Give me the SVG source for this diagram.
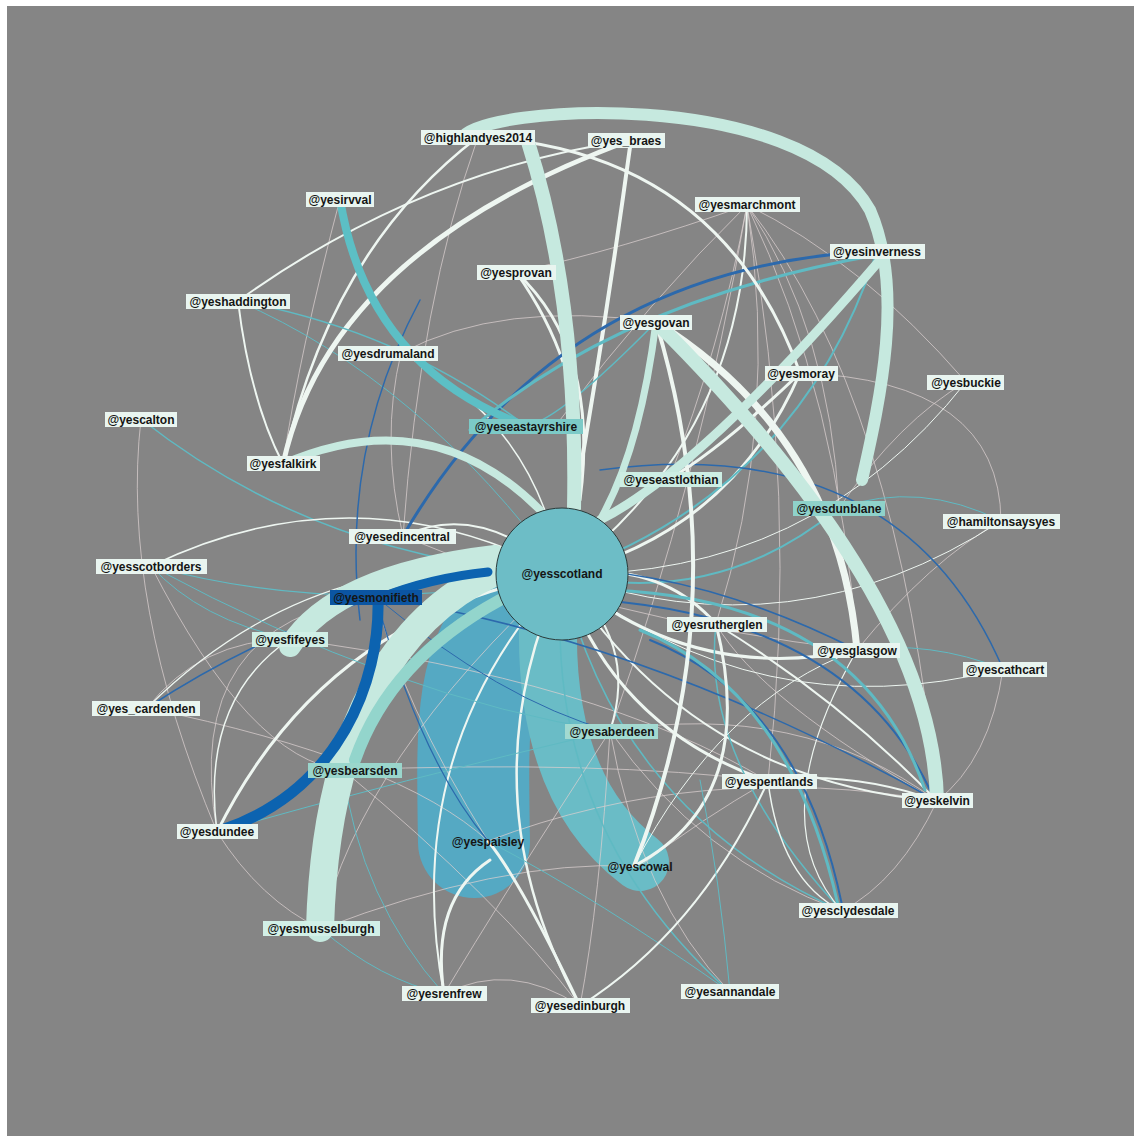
<svg xmlns="http://www.w3.org/2000/svg" width="1134" height="1136" viewBox="0 0 1134 1136">
<style>
.e{fill:none;stroke-linecap:round}
.w{stroke:#eef6f1}
.m{stroke:#c6e9df}
.t{stroke:#5fbac3}
.b{stroke:#2c69ac}
.g{stroke:#d9cfcf;opacity:.75}
.lb{fill:#e9f5f0}
.lt{font-family:"Liberation Sans",Arial,sans-serif;font-weight:bold;font-size:12px;fill:#151515;text-anchor:middle}
</style>
<rect x="0" y="0" width="1134" height="1136" fill="#ffffff"/>
<rect x="7" y="6" width="1127" height="1130" fill="#858585"/>
<g id="edges">
<path class="e" d="M520 612 C470 660 472 720 474 842" stroke="#55a9c3" stroke-width="112"/>
<path class="e" d="M548 625 Q545 790 640 862" stroke="#6abcc6" stroke-width="58"/>
<g stroke-width="1">
<path class="e g" d="M747 205 Q780 420 716 624"/>
<path class="e g" d="M747 205 Q840 400 857 650"/>
<path class="e g" d="M747 205 Q800 500 768 781"/>
<path class="e g" d="M747 205 Q700 480 610 731"/>
<path class="e g" d="M747 205 Q720 350 669 479"/>
<path class="e g" d="M747 205 Q830 330 839 508"/>
<path class="e g" d="M747 205 Q900 400 937 801"/>
<path class="e g" d="M747 205 Q650 300 560 420"/>
<path class="e g" d="M747 205 Q620 250 516 272"/>
<path class="e g" d="M747 205 Q860 260 966 382"/>
<path class="e g" d="M800 373 Q1000 380 1001 521"/>
<path class="e g" d="M966 382 Q900 420 839 508"/>
<path class="e g" d="M1001 521 Q930 560 857 650"/>
<path class="e g" d="M1003 669 Q990 760 937 801"/>
<path class="e g" d="M937 801 Q900 880 842 911"/>
<path class="e g" d="M444 994 Q510 960 580 1006"/>
<path class="e g" d="M217 832 Q260 900 321 929"/>
<path class="e g" d="M147 708 Q200 640 290 639"/>
<path class="e g" d="M401 353 Q380 440 403 536"/>
<path class="e g" d="M340 199 Q300 350 283 464"/>
<path class="e g" d="M768 781 Q700 820 640 866"/>
<path class="e g" d="M562 574 Q360 760 321 929"/>
<path class="e g" d="M488 841 Q700 760 937 801"/>
<path class="e g" d="M488 841 Q400 700 376 597"/>
<path class="e g" d="M610 731 Q800 700 937 801"/>
<path class="e g" d="M610 731 Q500 900 444 994"/>
<path class="e g" d="M610 731 Q700 860 842 911"/>
<path class="e g" d="M343 770 Q600 760 768 781"/>
<path class="e g" d="M343 770 Q500 900 580 1006"/>
<path class="e g" d="M403 536 Q600 620 857 650"/>
<path class="e g" d="M290 639 Q600 680 768 781"/>
<path class="e g" d="M147 708 Q400 760 488 841"/>
<path class="e g" d="M321 929 Q500 860 634 866"/>
<path class="e g" d="M580 1006 Q600 900 610 731"/>
<path class="e g" d="M730 992 Q640 900 610 731"/>
<path class="e g" d="M937 801 Q760 700 716 624"/>
<path class="e g" d="M478 137 Q420 300 403 536"/>
<path class="e g" d="M401 353 Q500 300 656 322"/>
<path class="e g" d="M217 832 Q180 620 376 597"/>
<path class="e g" d="M151 566 Q250 760 343 770"/>
<path class="e g" d="M141 419 Q120 600 217 832"/>
</g>
<path class="e t" stroke-width="1.5" d="M562 574 Q320 560 141 419"/>
<path class="e w" stroke-width="1.5" d="M562 574 Q358 466 151 566"/>
<path class="e t" stroke-width="1.2" d="M151 566 Q350 620 562 574"/>
<path class="e w" stroke-width="1.2" d="M562 574 Q320 536 147 708"/>
<path class="e w" stroke-width="3" d="M562 574 Q324 616 217 832"/>
<path class="e t" stroke-width="1.5" d="M562 574 Q402 616 343 770"/>
<path class="e w" stroke-width="2" d="M562 574 Q398 753 444 994"/>
<path class="e w" stroke-width="2.5" d="M562 574 Q463 793 580 1006"/>
<path class="e t" stroke-width="1.5" d="M562 574 Q541 824 730 992"/>
<path class="e t" stroke-width="1.5" d="M562 574 Q617 811 842 911"/>
<path class="e w" stroke-width="2" d="M562 574 Q692 780 937 801"/>
<path class="e w" stroke-width="3" d="M562 574 Q613 728 768 781"/>
<path class="e w" stroke-width="1" d="M562 574 Q758 731 1003 669"/>
<path class="e w" stroke-width="3" d="M562 574 Q690 685 857 650"/>
<path class="e w" stroke-width="1" d="M562 574 Q794 656 1001 521"/>
<path class="e t" stroke-width="2" d="M562 574 Q716 609 839 508"/>
<path class="e w" stroke-width="1" d="M562 574 Q811 578 966 382"/>
<path class="e w" stroke-width="3" d="M562 574 Q731 532 800 373"/>
<path class="e t" stroke-width="2" d="M562 574 Q800 490 877 251"/>
<path class="e w" stroke-width="2" d="M562 574 Q746 435 747 205"/>
<path class="e w" stroke-width="4" d="M575 500 Q605 330 631 140"/>
<path class="e w" stroke-width="3" d="M562 574 Q614 410 516 272"/>
<path class="e w" stroke-width="1.5" d="M562 574 Q536 422 401 353"/>
<path class="e w" stroke-width="2" d="M562 574 Q480 500 403 536"/>
<path class="e w" stroke-width="3" d="M562 574 Q660 560 716 624"/>
<path class="e w" stroke-width="2" d="M562 574 Q640 640 610 731"/>
<path class="e t" stroke-width="1" d="M562 574 Q420 380 238 301"/>
<path class="e t" stroke-width="1" d="M488 841 Q600 900 730 992"/>
<path class="e t" stroke-width="1" d="M151 566 Q400 700 610 731"/>
<path class="e t" stroke-width="1" d="M217 832 Q400 780 610 731"/>
<path class="e t" stroke-width="1" d="M444 994 Q360 900 343 770"/>
<path class="e t" stroke-width="1.5" d="M842 911 Q700 760 716 624"/>
<path class="e t" stroke-width="1.5" d="M656 322 Q560 420 526 426"/>
<path class="e w" stroke-width="1" d="M634 866 Q720 700 857 650"/>
<path class="e w" stroke-width="1.2" d="M857 650 Q760 820 842 911"/>
<path class="e w" stroke-width="2" d="M716 624 Q840 700 937 801"/>
<path class="e b" stroke-width="3" d="M403 536 Q560 266 877 251"/>
<path class="e t" stroke-width="3" d="M470 430 Q620 300 877 255"/>
<path class="e b" stroke-width="1.5" d="M376 597 Q600 520 857 650"/>
<path class="e b" stroke-width="1.5" d="M376 597 Q650 640 937 801"/>
<path class="e b" stroke-width="1" d="M376 597 Q500 700 610 731"/>
<path class="e b" stroke-width="1.5" d="M376 597 Q250 640 147 708"/>
<path class="e b" stroke-width="1.5" d="M600 470 Q900 430 1003 669"/>
<path class="e b" stroke-width="2" d="M650 640 Q800 700 842 905"/>
<path class="e t" stroke-width="3" d="M640 630 Q790 690 838 905"/>
<path class="e b" stroke-width="2" d="M600 600 Q850 620 930 790"/>
<path class="e t" stroke-width="3" d="M610 590 Q860 600 925 790"/>
<path class="e b" stroke-width="1.5" d="M420 300 Q340 450 360 620"/>
<path class="e b" stroke-width="1.2" d="M376 597 Q420 760 488 841"/>
<path class="e w" stroke-width="5" d="M283 464 Q330 250 631 140"/>
<path class="e w" stroke-width="2.5" d="M283 464 Q330 250 478 137"/>
<path class="e w" stroke-width="2" d="M631 140 Q420 170 238 301"/>
<path class="e w" stroke-width="3" d="M478 137 Q720 150 800 373"/>
<path class="e w" stroke-width="3" d="M516 272 Q600 350 580 500"/>
<path class="e w" stroke-width="3" d="M800 373 Q720 450 669 479"/>
<path class="e w" stroke-width="7" d="M656 322 Q838 436 857 650"/>
<path class="e w" stroke-width="4" d="M656 322 Q740 600 634 866"/>
<path class="e m" stroke-width="7" d="M656 322 Q640 450 600 520"/>
<path class="e w" stroke-width="3" d="M716 624 Q760 800 634 866"/>
<path class="e w" stroke-width="2" d="M768 781 Q700 930 580 1006"/>
<path class="e w" stroke-width="2" d="M768 781 Q850 770 937 801"/>
<path class="e w" stroke-width="1.5" d="M768 781 Q780 880 842 911"/>
<path class="e w" stroke-width="3" d="M580 1006 Q520 880 488 841"/>
<path class="e w" stroke-width="3" d="M444 994 Q430 900 490 860"/>
<path class="e w" stroke-width="1.5" d="M217 832 Q200 700 290 639"/>
<path class="e w" stroke-width="2" d="M238 301 Q250 400 283 464"/>
<path class="e t" stroke-width="1.5" d="M238 301 Q400 330 526 426"/>
<path class="e t" stroke-width="1" d="M151 566 Q200 620 290 639"/>
<path class="e t" stroke-width="1" d="M1001 521 Q920 480 839 508"/>
<path class="e t" stroke-width="1" d="M1003 669 Q930 640 857 650"/>
<path class="e t" stroke-width="1" d="M730 992 Q720 880 700 780"/>
<path class="e t" stroke-width="1" d="M321 929 Q380 980 444 994"/>
<path class="e" stroke="#5cbfc5" stroke-width="8" d="M340 199 Q367 367 526 426"/>
<path class="e m" stroke-width="8" d="M283 464 Q430 400 540 510"/>
<path class="e m" stroke-width="9" d="M600 520 Q700 470 880 260"/>
<path class="e m" stroke-width="14" d="M656 322 Q933 598 937 801"/>
<path class="e m" stroke-width="12" d="M462 138 C480 105 800 85 870 210 C905 290 880 400 862 480"/>
<path class="e m" stroke-width="14" d="M528 142 Q578 300 574 508"/>
<path class="e m" stroke-width="28" d="M495 572 C400 615 326 720 320 928"/>
<path class="e" stroke="#93d5cc" stroke-width="12" d="M355 760 Q390 660 500 600"/>
<path class="e m" stroke-width="22" d="M290 646 Q335 575 495 556"/>
<path class="e" stroke="#0c63b0" stroke-width="11" d="M378 600 C380 680 340 790 222 830"/>
<path class="e" stroke="#0c63b0" stroke-width="9" d="M380 598 Q430 578 488 572"/>
</g>
<g id="n-yesscotland"><circle cx="562" cy="574" r="66" fill="#6dbdc6" stroke="#2a3a3a" stroke-width="1"/><text class="lt" x="562" y="578" font-size="11" fill="#0d2a30">@yesscotland</text></g>
<g id="n-highlandyes2014"><rect class="lb" x="421" y="130" width="114" height="15"/><text class="lt" x="478" y="142">@highlandyes2014</text></g>
<g id="n-yes_braes"><rect class="lb" x="588" y="133" width="77" height="15"/><text class="lt" x="626" y="145">@yes_braes</text></g>
<g id="n-yesirvval"><rect class="lb" x="306" y="192" width="68" height="15"/><text class="lt" x="340" y="204">@yesirvval</text></g>
<g id="n-yesmarchmont"><rect class="lb" x="695" y="197" width="105" height="15"/><text class="lt" x="747" y="209">@yesmarchmont</text></g>
<g id="n-yesinverness"><rect class="lb" x="830" y="244" width="95" height="15"/><text class="lt" x="877" y="256">@yesinverness</text></g>
<g id="n-yesprovan"><rect class="lb" x="477" y="265" width="79" height="15"/><text class="lt" x="516" y="277">@yesprovan</text></g>
<g id="n-yeshaddington"><rect class="lb" x="186" y="294" width="104" height="15"/><text class="lt" x="238" y="306">@yeshaddington</text></g>
<g id="n-yesgovan"><rect class="lb" x="620" y="315" width="72" height="15"/><text class="lt" x="656" y="327">@yesgovan</text></g>
<g id="n-yesdrumaland"><rect class="lb" x="338" y="346" width="100" height="15"/><text class="lt" x="388" y="358">@yesdrumaland</text></g>
<g id="n-yesmoray"><rect class="lb" x="765" y="366" width="73" height="15"/><text class="lt" x="801" y="378">@yesmoray</text></g>
<g id="n-yesbuckie"><rect class="lb" x="927" y="375" width="77" height="15"/><text class="lt" x="966" y="387">@yesbuckie</text></g>
<g id="n-yescalton"><rect class="lb" x="105" y="412" width="72" height="15"/><text class="lt" x="141" y="424">@yescalton</text></g>
<g id="n-yeseastayrshire"><rect x="469" y="419" width="114" height="15" fill="#7ccac7"/><text class="lt" x="526" y="431">@yeseastayrshire</text></g>
<g id="n-yesfalkirk"><rect class="lb" x="247" y="456" width="73" height="15"/><text class="lt" x="283" y="468">@yesfalkirk</text></g>
<g id="n-yeseastlothian"><rect x="620" y="472" width="102" height="15" fill="#cdeee4"/><text class="lt" x="671" y="484">@yeseastlothian</text></g>
<g id="n-yesdunblane"><rect x="793" y="501" width="92" height="15" fill="#8fd2ca"/><text class="lt" x="839" y="513">@yesdunblane</text></g>
<g id="n-hamiltonsaysyes"><rect class="lb" x="943" y="514" width="117" height="15"/><text class="lt" x="1001" y="526">@hamiltonsaysyes</text></g>
<g id="n-yesedincentral"><rect class="lb" x="349" y="529" width="107" height="15"/><text class="lt" x="402" y="541">@yesedincentral</text></g>
<g id="n-yesscotborders"><rect class="lb" x="96" y="559" width="111" height="15"/><text class="lt" x="151" y="571">@yesscotborders</text></g>
<g id="n-yesmonifieth"><rect x="330" y="590" width="92" height="15" fill="#0b55a2"/><text class="lt" x="376" y="602" fill="#071a33">@yesmonifieth</text></g>
<g id="n-yesfifeyes"><rect x="252" y="632" width="76" height="15" fill="#d0efe6"/><text class="lt" x="290" y="644">@yesfifeyes</text></g>
<g id="n-yesrutherglen"><rect class="lb" x="667" y="617" width="100" height="15"/><text class="lt" x="717" y="629">@yesrutherglen</text></g>
<g id="n-yesglasgow"><rect class="lb" x="813" y="643" width="87" height="15"/><text class="lt" x="857" y="655">@yesglasgow</text></g>
<g id="n-yescathcart"><rect class="lb" x="963" y="662" width="84" height="15"/><text class="lt" x="1005" y="674">@yescathcart</text></g>
<g id="n-yes_cardenden"><rect class="lb" x="92" y="701" width="108" height="15"/><text class="lt" x="146" y="713">@yes_cardenden</text></g>
<g id="n-yesaberdeen"><rect x="565" y="724" width="93" height="15" fill="#a3dad1"/><text class="lt" x="612" y="736">@yesaberdeen</text></g>
<g id="n-yespentlands"><rect class="lb" x="722" y="774" width="95" height="15"/><text class="lt" x="769" y="786">@yespentlands</text></g>
<g id="n-yesbearsden"><rect x="308" y="763" width="94" height="15" fill="#9ad6cc"/><text class="lt" x="355" y="775">@yesbearsden</text></g>
<g id="n-yeskelvin"><rect class="lb" x="902" y="793" width="71" height="15"/><text class="lt" x="937" y="805">@yeskelvin</text></g>
<g id="n-yesdundee"><rect class="lb" x="177" y="824" width="81" height="15"/><text class="lt" x="217" y="836">@yesdundee</text></g>
<g id="n-yespaisley"><text class="lt" x="488" y="846" fill="#0d2030">@yespaisley</text></g>
<g id="n-yescowal"><text class="lt" x="640" y="871" fill="#0d2030">@yescowal</text></g>
<g id="n-yesclydesdale"><rect class="lb" x="799" y="903" width="99" height="15"/><text class="lt" x="848" y="915">@yesclydesdale</text></g>
<g id="n-yesmusselburgh"><rect x="263" y="921" width="117" height="15" fill="#d2f0e7"/><text class="lt" x="321" y="933">@yesmusselburgh</text></g>
<g id="n-yesrenfrew"><rect class="lb" x="402" y="986" width="85" height="15"/><text class="lt" x="444" y="998">@yesrenfrew</text></g>
<g id="n-yesedinburgh"><rect class="lb" x="531" y="998" width="99" height="15"/><text class="lt" x="580" y="1010">@yesedinburgh</text></g>
<g id="n-yesannandale"><rect class="lb" x="681" y="984" width="98" height="15"/><text class="lt" x="730" y="996">@yesannandale</text></g>
</svg>
